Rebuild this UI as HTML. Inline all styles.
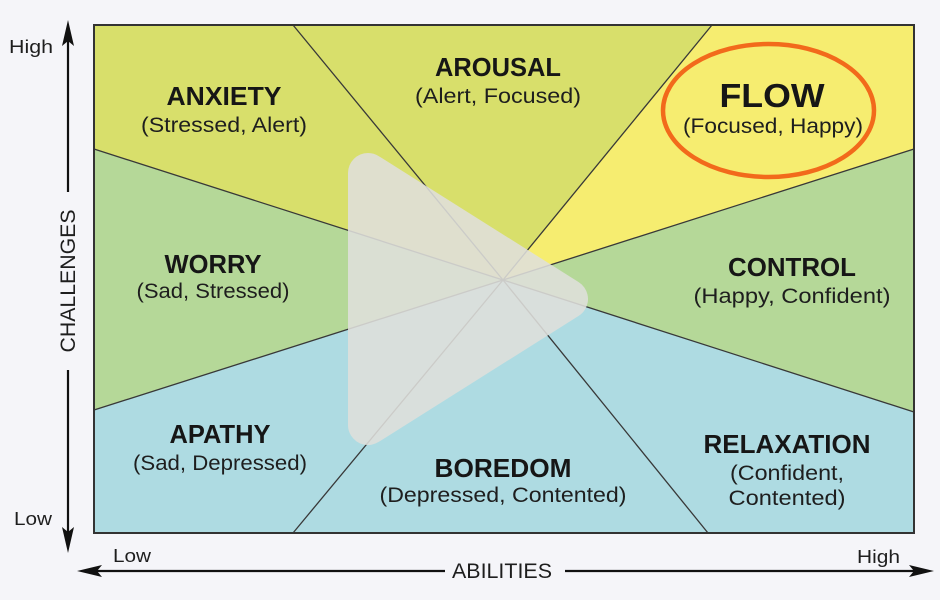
<!DOCTYPE html>
<html>
<head>
<meta charset="utf-8">
<style>
  html, body { margin: 0; padding: 0; background: #f5f5f9; }
  svg { display: block; }
  text { font-family: "Liberation Sans", Arial, sans-serif; fill: #161616; }
  .h { font-weight: bold; font-size: 26px; }
  .s { font-size: 21px; fill: #1e1e1e; }
  .ax { font-size: 18px; fill: #1e1e1e; }
</style>
</head>
<body>
<svg width="940" height="600" viewBox="0 0 940 600" xmlns="http://www.w3.org/2000/svg">
  <rect x="0" y="0" width="940" height="600" fill="#f5f5f9"/>

  <!-- regions -->
  <polygon points="94,25 293,25 503,280 94,149" fill="#d8df6b"/>
  <polygon points="293,25 712,25 503,280" fill="#d8df6b"/>
  <polygon points="712,25 914,25 914,149 503,280" fill="#f6ed70"/>
  <polygon points="94,149 503,280 94,410" fill="#b5d898"/>
  <polygon points="914,149 914,412 503,280" fill="#b5d898"/>
  <polygon points="94,410 503,280 293,533 94,533" fill="#aedbe2"/>
  <polygon points="503,280 293,533 708,533" fill="#aedbe2"/>
  <polygon points="503,280 708,533 914,533 914,412" fill="#aedbe2"/>

  <!-- boundary lines -->
  <g stroke="#383838" stroke-width="1.3" fill="none">
    <line x1="293" y1="25" x2="503" y2="280"/>
    <line x1="712" y1="25" x2="503" y2="280"/>
    <line x1="94" y1="149" x2="503" y2="280"/>
    <line x1="94" y1="410" x2="503" y2="280"/>
    <line x1="914" y1="149" x2="503" y2="280"/>
    <line x1="914" y1="412" x2="503" y2="280"/>
    <line x1="293" y1="533" x2="503" y2="280"/>
    <line x1="708" y1="533" x2="503" y2="280"/>
  </g>
  <rect x="94" y="25" width="820" height="508" fill="none" stroke="#333" stroke-width="2"/>

  <!-- labels -->
  <text class="h" x="224" y="105" text-anchor="middle" textLength="115" lengthAdjust="spacingAndGlyphs">ANXIETY</text>
  <text class="s" x="224" y="132" text-anchor="middle" textLength="166" lengthAdjust="spacingAndGlyphs">(Stressed, Alert)</text>

  <text class="h" x="498" y="76" text-anchor="middle" textLength="126" lengthAdjust="spacingAndGlyphs">AROUSAL</text>
  <text class="s" x="498" y="103" text-anchor="middle" textLength="166" lengthAdjust="spacingAndGlyphs">(Alert, Focused)</text>

  <text class="h" x="772" y="107" text-anchor="middle" style="font-size:33px" textLength="105" lengthAdjust="spacingAndGlyphs">FLOW</text>
  <text class="s" x="773" y="133" text-anchor="middle" textLength="180" lengthAdjust="spacingAndGlyphs">(Focused, Happy)</text>
  <ellipse cx="768.5" cy="110.5" rx="105.5" ry="66.5" fill="none" stroke="#f26a1b" stroke-width="4.5"/>

  <text class="h" x="213" y="273" text-anchor="middle" textLength="97" lengthAdjust="spacingAndGlyphs">WORRY</text>
  <text class="s" x="213" y="298" text-anchor="middle" textLength="153" lengthAdjust="spacingAndGlyphs">(Sad, Stressed)</text>

  <text class="h" x="792" y="276" text-anchor="middle" textLength="128" lengthAdjust="spacingAndGlyphs">CONTROL</text>
  <text class="s" x="792" y="303" text-anchor="middle" textLength="197" lengthAdjust="spacingAndGlyphs">(Happy, Confident)</text>

  <text class="h" x="220" y="443" text-anchor="middle" textLength="101" lengthAdjust="spacingAndGlyphs">APATHY</text>
  <text class="s" x="220" y="470" text-anchor="middle" textLength="174" lengthAdjust="spacingAndGlyphs">(Sad, Depressed)</text>

  <text class="h" x="503" y="477" text-anchor="middle" textLength="137" lengthAdjust="spacingAndGlyphs">BOREDOM</text>
  <text class="s" x="503" y="502" text-anchor="middle" textLength="247" lengthAdjust="spacingAndGlyphs">(Depressed, Contented)</text>

  <text class="h" x="787" y="453" text-anchor="middle" textLength="167" lengthAdjust="spacingAndGlyphs">RELAXATION</text>
  <text class="s" x="787" y="480" text-anchor="middle" textLength="114" lengthAdjust="spacingAndGlyphs">(Confident,</text>
  <text class="s" x="787" y="505" text-anchor="middle" textLength="117" lengthAdjust="spacingAndGlyphs">Contented)</text>

  <!-- play button overlay -->
  <g opacity="0.88">
    <polygon points="368,173 568,299 368,425" fill="#e0e0dc" stroke="#e0e0dc" stroke-width="40" stroke-linejoin="round"/>
  </g>

  <!-- vertical axis -->
  <g stroke="#111" stroke-width="2.2" fill="none">
    <line x1="68" y1="38" x2="68" y2="192"/>
    <line x1="68" y1="370" x2="68" y2="538"/>
    <line x1="92" y1="571" x2="445" y2="571"/>
    <line x1="565" y1="571" x2="918" y2="571"/>
  </g>
  <g fill="#111">
    <polygon points="68,20 74,46 68,41 62,46"/>
    <polygon points="68,553 74,527 68,532 62,527"/>
    <polygon points="77,571 102,565 97,571 102,577"/>
    <polygon points="934,571 909,565 914,571 909,577"/>
  </g>

  <text class="ax" x="9" y="53" textLength="44" lengthAdjust="spacingAndGlyphs">High</text>
  <text class="ax" x="14" y="525" textLength="38" lengthAdjust="spacingAndGlyphs">Low</text>
  <text class="ax" x="113" y="562" textLength="38" lengthAdjust="spacingAndGlyphs">Low</text>
  <text class="ax" x="857" y="563" textLength="43" lengthAdjust="spacingAndGlyphs">High</text>

  <text class="s" x="502" y="578" text-anchor="middle" textLength="100" lengthAdjust="spacingAndGlyphs">ABILITIES</text>
  <text class="s" x="0" y="0" text-anchor="middle" textLength="143" lengthAdjust="spacingAndGlyphs" transform="translate(75,281) rotate(-90)">CHALLENGES</text>
</svg>
</body>
</html>
